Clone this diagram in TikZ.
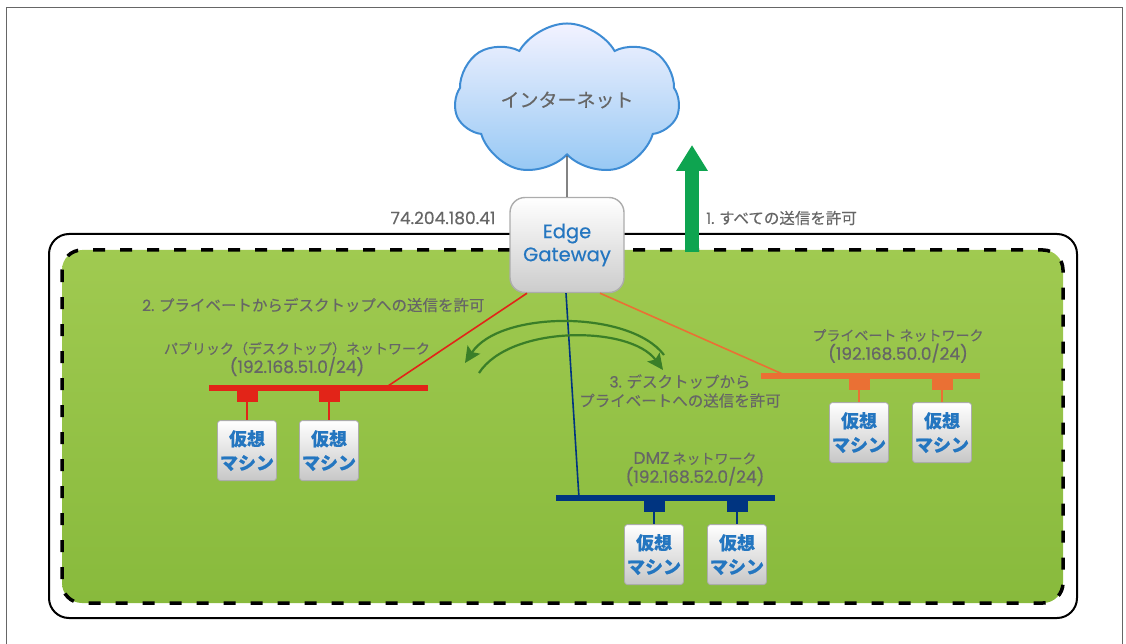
\documentclass[tikz,border=0pt]{standalone}
\usepackage{fontspec}
\setmainfont{Noto Sans CJK JP}[FakeBold=0.3]
\newfontfamily\lat[FakeBold=0.5]{Poppins}
\usepackage{xcolor}
\usetikzlibrary{shapes.symbols,positioning,arrows.meta}

\definecolor{textgray}{RGB}{102,102,102}
\definecolor{vmblue}{RGB}{36,118,192}
\definecolor{pubred}{RGB}{226,36,24}
\definecolor{dmzblue}{RGB}{0,52,128}
\definecolor{privorange}{RGB}{234,112,52}
\definecolor{flowgreen}{RGB}{58,126,40}
\definecolor{upgreen}{RGB}{14,164,80}
\definecolor{cloudline}{RGB}{62,140,212}
\definecolor{landark}{RGB}{124,178,50}
\definecolor{lanmid}{RGB}{166,206,86}
\definecolor{lanlight}{RGB}{212,234,164}
\definecolor{boxline}{RGB}{172,172,172}

% green fill of the vDC area, bright band on top
\pgfdeclareverticalshading{lanfill}{100bp}{color(0bp)=(landark); color(88bp)=(lanmid); color(89.5bp)=(lanlight!70!lanmid); color(100bp)=(lanlight)}

% network address line under a network name
\newcommand\netaddr[1]{{\lat\fontsize{17}{19}\selectfont #1}}

\begin{document}
\begin{tikzpicture}[
		x=1pt,y=-1pt,
		>=Stealth,
		label/.style={
			text=textgray,
			align=center,
			inner sep=0pt,
			font=\fontsize{14}{19}\selectfont
		},
		rule/.style={
			label,
			font=\fontsize{15.5}{19}\selectfont
		},
		vm/.style={
			draw=boxline,
			line width=0.8pt,
			rounded corners=3pt,
			top color=white,
			bottom color=black!22,
			minimum width=59pt,
			minimum height=60pt,
			inner sep=0pt,
			align=center,
			text=vmblue,
			font=\fontsize{18}{24}\selectfont\bfseries
		},
		bar/.style={
			rectangle,
			inner sep=0pt,
			minimum width=219pt,
			minimum height=6pt
		},
		tab/.style={
			rectangle,
			inner sep=0pt,
			minimum width=21pt,
			minimum height=11pt
		},
		wire/.style={line width=1.6pt}
		]
		\useasboundingbox (0,0) rectangle (1126,644);

		% page frame
		\draw[black!60, line width=0.8pt] (6,650) -- (6,7) -- (1122,7) -- (1122,650);

		% organisation vDC: solid outline and dashed green area
		\draw[line width=2pt, rounded corners=20pt] (49,234) rectangle (1077,618);
		\shade[shading=lanfill, rounded corners=20pt] (62,250) rectangle (1063,603);
		\draw[line width=3.5pt, dash pattern=on 12pt off 15pt, rounded corners=20pt] (62,250) rectangle (1063,603);

		% internet and gateway
		\node[cloud, cloud puffs=7, cloud puff arc=120, aspect=1.6,
			minimum width=225pt, minimum height=140pt, inner sep=0pt,
			draw=cloudline, line width=2pt,
			top color=blue!5, bottom color={rgb,255:red,150;green,200;blue,244},
			text=textgray, font=\fontsize{19}{22}\selectfont] (inet) at (567,100) {\raisebox{-8pt}{インターネット}};
		\node[draw=boxline, line width=1.4pt, rounded corners=15pt,
			top color=white, bottom color=black!20,
			minimum width=114pt, minimum height=95pt, inner sep=0pt,
			align=center, text=vmblue, font=\lat\fontsize{19.5}{23}\selectfont] (gw) at (567,245) {Edge\\Gateway};
		\draw[black!75, line width=1.4pt] (inet.south) -- (gw.north);

		\node[label, font=\lat\fontsize{17}{19}\selectfont] (extip) at (443,218) {74.204.180.41};

		% rule 1: outbound traffic
		\coordinate (upbase) at (692,252);
		\coordinate (uptip) at (692,145);
		\draw[-{Triangle[width=30pt,length=26pt]}, line width=14pt, upgreen] (upbase) -- (uptip);
		\node[rule, anchor=west] (rule1) at (706,218) {{\lat 1.} すべての送信を許可};

		% public (desktop) network
		\node[bar, fill=pubred] (pubnet) at (318.5,388) {};
		\coordinate (pubjoin) at (385,388);
		\node[tab, fill=pubred] (pubtab1) at (247,396.5) {};
		\node[tab, fill=pubred] (pubtab2) at (329,396.5) {};
		\node[vm, below=18pt of pubtab1] (pub1) {仮想\\マシン};
		\node[vm, below=18pt of pubtab2] (pub2) {仮想\\マシン};
		\draw[pubred, wire] (pubtab1) -- (pub1);
		\draw[pubred, wire] (pubtab2) -- (pub2);
		\node[label] (pubname) at (297,359) {パブリック（デスクトップ）ネットワーク\\\netaddr{(192.168.51.0/24)}};

		% private network
		\node[bar, fill=privorange] (privnet) at (870.5,376) {};
		\coordinate (privjoin) at (787,376);
		\node[tab, fill=privorange] (privtab1) at (859,384.5) {};
		\node[tab, fill=privorange] (privtab2) at (942,384.5) {};
		\node[vm, below=12pt of privtab1] (priv1) {仮想\\マシン};
		\node[vm, below=12pt of privtab2] (priv2) {仮想\\マシン};
		\draw[privorange, wire] (privtab1) -- (priv1);
		\draw[privorange, wire] (privtab2) -- (priv2);
		\node[label] (privname) at (898,346) {プライベート ネットワーク\\\netaddr{(192.168.50.0/24)}};

		% DMZ network
		\node[bar, fill=dmzblue] (dmznet) at (665.5,498) {};
		\coordinate (dmzjoin) at (579,498);
		\node[tab, fill=dmzblue] (dmztab1) at (654,506.5) {};
		\node[tab, fill=dmzblue] (dmztab2) at (737,506.5) {};
		\node[vm, below=12pt of dmztab1] (dmz1) {仮想\\マシン};
		\node[vm, below=12pt of dmztab2] (dmz2) {仮想\\マシン};
		\draw[dmzblue, wire] (dmztab1) -- (dmz1);
		\draw[dmzblue, wire] (dmztab2) -- (dmz2);
		\node[label] (dmzname) at (695,469) {\netaddr{DMZ} ネットワーク\\\netaddr{(192.168.52.0/24)}};

		% uplinks from the gateway
		\draw[pubred, wire] ([xshift=-40pt]gw.south) -- (pubjoin);
		\draw[dmzblue, wire] ([xshift=-1pt]gw.south) -- (dmzjoin);
		\draw[privorange, wire] ([xshift=33pt]gw.south) -- (privjoin);

		% rules 2 and 3: traffic between the networks
		\node[rule, anchor=west] (rule2) at (142,305) {{\lat 2.} プライベートからデスクトップへの送信を許可};
		\coordinate (toleftA) at (664,355);
		\coordinate (toleftB) at (465,363);
		\coordinate (torightA) at (479,373);
		\coordinate (torightB) at (663,370);
		\draw[-{Stealth[length=16pt,width=15pt,inset=3pt]}, flowgreen, line width=2.2pt] (toleftA) .. controls (630,310) and (500,310) .. (toleftB);
		\draw[-{Stealth[length=16pt,width=15pt,inset=3pt]}, flowgreen, line width=2.2pt] (torightA) .. controls (510,325) and (630,325) .. (torightB);
		\node[rule] (rule3) at (680,391) {{\lat 3.} デスクトップから\\プライベートへの送信を許可};
	\end{tikzpicture}
\end{document}
